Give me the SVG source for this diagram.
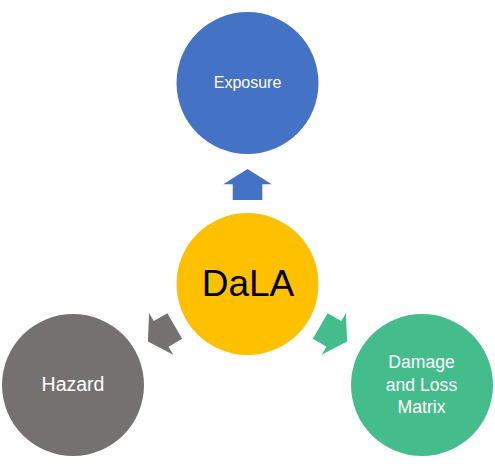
<svg xmlns="http://www.w3.org/2000/svg" width="495" height="468" viewBox="0 0 495 468">
<style>
  .lbl { font-family: "Liberation Sans", Arial, sans-serif; fill: #FFFFFF; text-anchor: middle; }
  .big { font-family: "Liberation Sans", Arial, sans-serif; fill: #000000; text-anchor: middle; }
</style>
<defs>
  <polygon id="arr" points="0,-14.8 15.7,-14.8 15.7,-24.2 31,0 15.7,24.2 15.7,14.8 0,14.8"/>
</defs>
<rect width="495" height="468" fill="#FFFFFF"/>
<g id="connectors">
  <use href="#arr" fill="#4472C4" transform="translate(247.5 284) rotate(-90) translate(84 0)"/>
  <use href="#arr" fill="#767171" transform="translate(247.5 284) rotate(150) translate(84 0)"/>
  <use href="#arr" fill="#44BC8C" transform="translate(247.5 284) rotate(30) translate(84 0)"/>
</g>
<g id="exposure">
  <circle cx="247.5" cy="83" r="71" fill="#4472C4"/>
  <text class="lbl" x="247.5" y="88.3" font-size="16">Exposure</text>
</g>
<g id="dala">
  <circle cx="247.5" cy="284" r="71" fill="#FFC000"/>
  <text class="big" x="248" y="296" font-size="37">DaLA</text>
</g>
<g id="hazard">
  <circle cx="73" cy="385" r="71" fill="#767171"/>
  <text class="lbl" x="73" y="390.7" font-size="19.5">Hazard</text>
</g>
<g id="damage">
  <circle cx="422" cy="385" r="71" fill="#44BC8C"/>
  <text class="lbl" x="421.5" y="367.7" font-size="17.6">Damage</text>
  <text class="lbl" x="421.5" y="390.7" font-size="17.6">and Loss</text>
  <text class="lbl" x="421.5" y="413.3" font-size="17.6">Matrix</text>
</g>
</svg>
